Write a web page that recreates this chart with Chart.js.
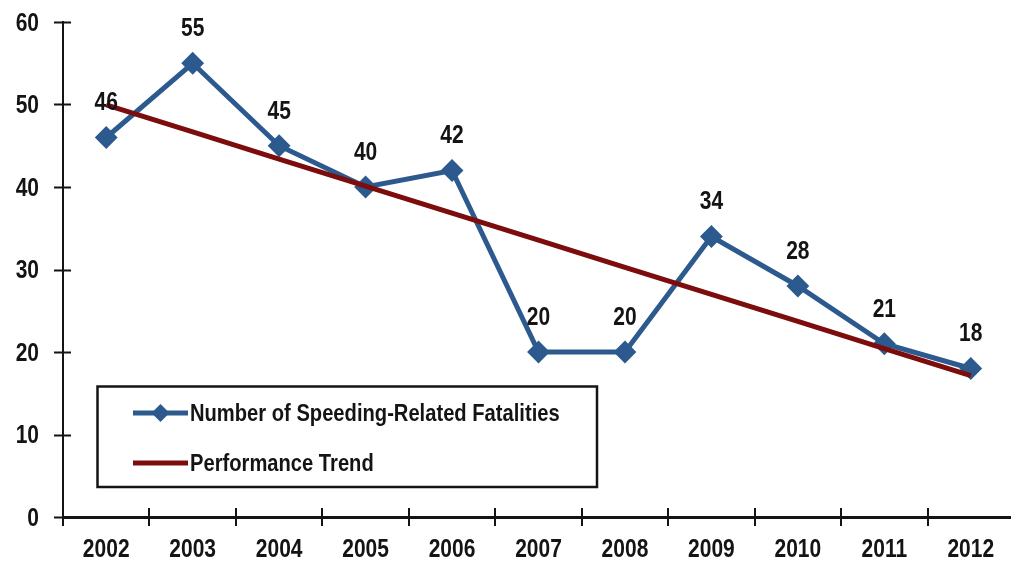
<!DOCTYPE html>
<html>
<head>
<meta charset="utf-8">
<script src="https://cdn.jsdelivr.net/npm/chart.js@4/dist/chart.umd.min.js"></script>
<style>
  html, body { margin: 0; padding: 0; background: #ffffff; overflow: hidden; }
  #wrap { width: 1026px; height: 563px; }
</style>
</head>
<body>
<div id="wrap"><canvas id="chart" width="1026" height="563"></canvas></div>
<script>
// Speeding-related fatalities by year, with the fitted performance trend
const years = ['2002', '2003', '2004', '2005', '2006', '2007', '2008', '2009', '2010', '2011', '2012'];
const fatalities = [46, 55, 45, 40, 42, 20, 20, 34, 28, 21, 18];
const trend = [49.95, 46.67, 43.39, 40.10, 36.82, 33.55, 30.27, 26.98, 23.70, 20.42, 17.14];
const yTicks = [0, 10, 20, 30, 40, 50, 60];

const seriesNames = ['Number of Speeding-Related Fatalities', 'Performance Trend'];

const FONT = '"Liberation Sans", Arial, sans-serif';
const BLUE = '#2C5A8E';
const DARK_RED = '#7D0C0C';
const INK = '#141414';
const SQUEEZE = 0.84;   // horizontal squeeze to give a narrow bold face

// Draw text horizontally condensed around an anchor point
function narrowText(ctx, text, x, y, align, font) {
  ctx.save();
  ctx.font = font;
  ctx.fillStyle = INK;
  ctx.textAlign = align;
  ctx.textBaseline = 'middle';
  ctx.translate(x, y);
  ctx.scale(SQUEEZE, 1);
  ctx.fillText(text, 0, 0);
  ctx.restore();
}

// Value labels above each point of the fatalities series
const valueLabels = {
  id: 'valueLabels',
  afterDatasetsDraw(chart) {
    const idx = chart.data.datasets.findIndex(d => d.label === seriesNames[0]);
    const meta = chart.getDatasetMeta(idx);
    const values = chart.data.datasets[idx].data;
    meta.data.forEach((pt, i) => {
      narrowText(chart.ctx, String(values[i]), pt.x, pt.y - 34, 'center', 'bold 25px ' + FONT);
    });
  }
};

// Axis tick labels and tick marks that cross both axis lines
const axisDecor = {
  id: 'axisDecor',
  afterDraw(chart) {
    const ctx = chart.ctx;
    const x = chart.scales.x;
    const y = chart.scales.y;
    const axisX = chart.chartArea.left;
    const axisY = chart.chartArea.bottom;
    const step = x.getPixelForValue(1) - x.getPixelForValue(0);

    ctx.save();
    ctx.strokeStyle = INK;
    ctx.lineWidth = 2;
    ctx.beginPath();
    y.ticks.forEach(t => {
      const py = Math.round(y.getPixelForValue(t.value)) + 0.5;
      ctx.moveTo(axisX - 9, py);
      ctx.lineTo(axisX + 8, py);
    });
    for (let i = 0; i <= years.length; i++) {
      const px = Math.round(x.getPixelForValue(i) - step / 2);
      ctx.moveTo(px, axisY - 9);
      ctx.lineTo(px, axisY + 9);
    }
    ctx.stroke();
    ctx.restore();

    y.ticks.forEach(t => {
      narrowText(ctx, String(t.value), axisX - 24, y.getPixelForValue(t.value) + 2, 'right', 'bold 25px ' + FONT);
    });
    x.getLabels().forEach((lab, i) => {
      narrowText(ctx, lab, x.getPixelForValue(i), axisY + 33, 'center', 'bold 25px ' + FONT);
    });
  }
};

// Boxed legend sitting in the lower-left of the plot
const boxLegend = {
  id: 'boxLegend',
  afterDraw(chart) {
    const ctx = chart.ctx;
    const box = { left: 97.5, top: 386.5, right: 597, bottom: 487 };
    const rows = [413, 463];
    const sampleFrom = 133, sampleTo = 188;
    ctx.save();
    ctx.fillStyle = '#ffffff';
    ctx.fillRect(box.left, box.top, box.right - box.left, box.bottom - box.top);
    ctx.strokeStyle = INK;
    ctx.lineWidth = 2.5;
    ctx.strokeRect(box.left, box.top, box.right - box.left, box.bottom - box.top);

    seriesNames.forEach((name, r) => {
      const ds = chart.data.datasets.find(d => d.label === name);
      const cy = rows[r];
      ctx.strokeStyle = ds.borderColor;
      ctx.lineWidth = ds.borderWidth;
      ctx.beginPath();
      ctx.moveTo(sampleFrom, cy);
      ctx.lineTo(sampleTo, cy);
      ctx.stroke();
      if (ds.pointRadius > 0) {
        const cx = (sampleFrom + sampleTo) / 2;
        const s = 9;
        ctx.fillStyle = ds.pointBackgroundColor;
        ctx.beginPath();
        ctx.moveTo(cx - s, cy);
        ctx.lineTo(cx, cy - s);
        ctx.lineTo(cx + s, cy);
        ctx.lineTo(cx, cy + s);
        ctx.closePath();
        ctx.fill();
      }
    });
    ctx.restore();
    seriesNames.forEach((name, r) => {
      narrowText(ctx, name, 190, rows[r] + 1, 'left', 'bold 24px ' + FONT);
    });
  }
};

new Chart(document.getElementById('chart'), {
  type: 'line',
  data: {
    labels: years,
    datasets: [
      {
        label: seriesNames[0],
        data: fatalities,
        borderColor: BLUE,
        borderWidth: 5,
        pointStyle: 'rectRot',
        pointRadius: 10,
        pointBorderWidth: 2,
        pointBackgroundColor: BLUE,
        pointBorderColor: BLUE,
        tension: 0,
        order: 1
      },
      {
        label: seriesNames[1],
        data: trend,
        borderColor: DARK_RED,
        borderWidth: 5,
        pointRadius: 0,
        tension: 0,
        order: 0
      }
    ]
  },
  options: {
    responsive: false,
    animation: false,
    devicePixelRatio: 1,
    layout: { padding: { top: 22, right: 2, left: 0, bottom: 0 } },
    plugins: {
      legend: { display: false },
      tooltip: { enabled: false }
    },
    scales: {
      x: {
        offset: true,
        afterFit(scale) { scale.height = 46; },
        grid: { display: false, drawTicks: false },
        border: { display: true, color: INK, width: 3 },
        ticks: { display: false, autoSkip: false }
      },
      y: {
        min: 0,
        max: 60,
        afterFit(scale) { scale.width = 63; },
        afterBuildTicks(scale) { scale.ticks = yTicks.map(v => ({ value: v })); },
        grid: { display: false, drawTicks: false },
        border: { display: true, color: INK, width: 2 },
        ticks: { display: false }
      }
    }
  },
  plugins: [axisDecor, valueLabels, boxLegend]
});
</script>
</body>
</html>
